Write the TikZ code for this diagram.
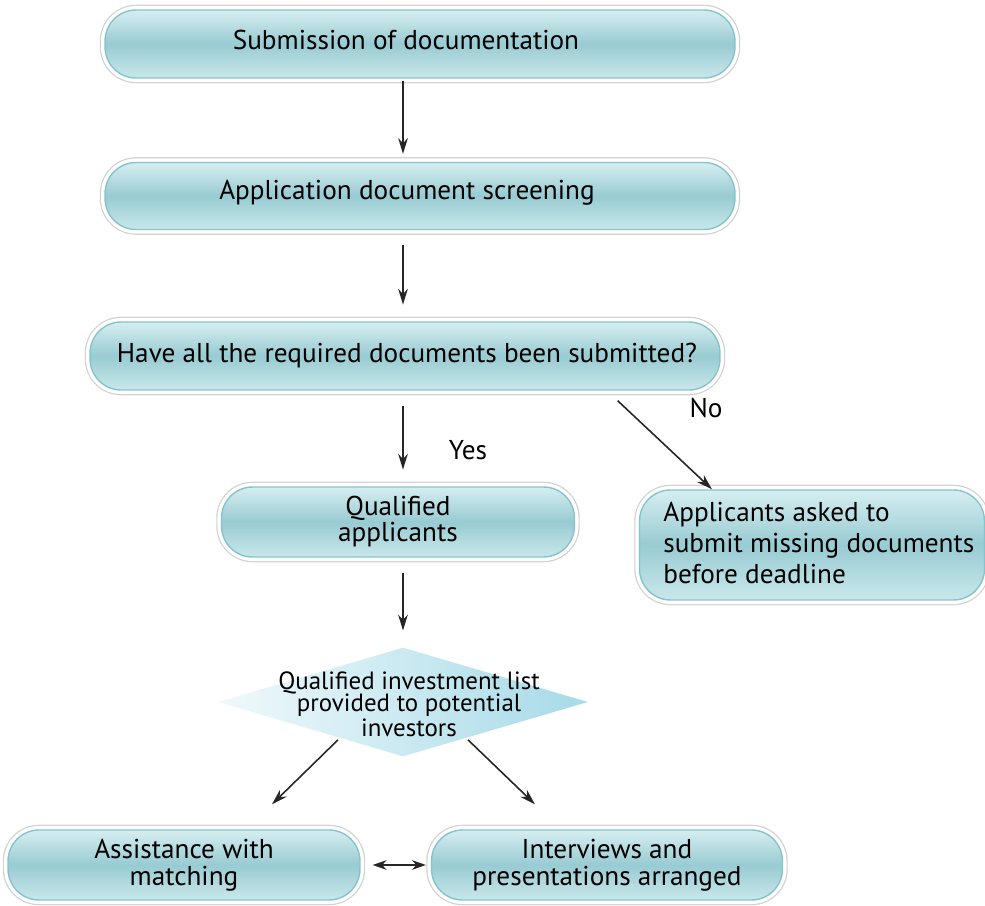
\documentclass[tikz,border=0pt]{standalone}
\usepackage{fontspec}
\setmainfont{PT Sans}
\usetikzlibrary{arrows.meta,shapes.geometric}
\definecolor{btop}{HTML}{D6EEF0}
\definecolor{bmid}{HTML}{98CBD2}
\definecolor{bbot}{HTML}{C9E8EB}
\definecolor{bline}{HTML}{86C4CC}
\definecolor{dleft}{HTML}{F0F9FC}
\definecolor{dright}{HTML}{A6DAE7}
\begin{document}
\begin{tikzpicture}[x=0.02cm,y=-0.02cm,
  pill/.style={rounded corners=0.62cm, shading=axis, top color=btop, bottom color=bbot, middle color=bmid,
    draw=bline, line width=0.8pt,
    preaction={draw=black!18,line width=6pt},
    preaction={draw=white,line width=4.6pt},
    text=black, inner sep=0pt, align=center},
  lbl/.style={font=\fontsize{15.5}{17}\selectfont, text=black, inner sep=0pt},
  arr/.style={-{Stealth[length=9pt,width=5.5pt]}, line width=0.9pt, black!85},
  vgap/.style={shorten <=8.5pt, shorten >=9.5pt}]
\useasboundingbox (0,0) rectangle (985,906);

\node[pill, minimum width=12.6cm, minimum height=1.36cm] (s1) at (420,44) {};
\node[lbl] (s1t) at (406,40) {Submission of documentation};
\node[pill, minimum width=12.6cm, minimum height=1.34cm] (s2) at (420,196) {};
\node[lbl] (s2t) at (407,193) {Application document screening};
\node[pill, minimum width=12.6cm, minimum height=1.36cm] (s3) at (405,356) {};
\node[lbl] (s3t) at (407,356) {Have all the required documents been submitted?};
\node[pill, minimum width=7.06cm, minimum height=1.4cm, font=\fontsize{15.5}{13.6}\selectfont] (qa) at (398,522) {Qualified\\applicants};
\node[pill, minimum width=6.9cm, minimum height=2.2cm] (miss) at (812,545) {};
\node[lbl, anchor=west, align=left, font=\fontsize{15.5}{17.6}\selectfont] (misst) at (663,543) {Applicants asked to\\submit missing documents\\before deadline};

\node[diamond, minimum width=7.4cm, minimum height=2.18cm, inner sep=0pt, shading=axis, left color=dleft, right color=dright] (d) at (403,702) {};
\node[lbl, align=center, font=\fontsize{14.2}{12.8}\selectfont] (dt) at (409,704) {Qualified investment list\\provided to potential\\investors};

\node[pill, minimum width=7.04cm, minimum height=1.4cm, font=\fontsize{15.5}{15.3}\selectfont] (ast) at (184,865) {Assistance with\\matching};
\node[pill, minimum width=7.02cm, minimum height=1.4cm, font=\fontsize{15.5}{15.3}\selectfont] (int) at (607,865) {Interviews and\\presentations\ arranged};

\node[lbl] (yes) at (468,450) {Yes};
\node[lbl] (no) at (706,408) {No};

\draw[arr, shorten <=1.1pt, shorten >=4.5pt] (s1.south -| d.center) -- (s2.north -| d.center);
\draw[arr, vgap] (s2.south -| d.center) -- (s3.north -| d.center);
\draw[arr, vgap] (s3.south -| d.center) -- (qa.north -| d.center);
\draw[arr, vgap] (qa.south -| d.center) -- (d.north);
\draw[arr] ([shift={(-103,10)}]s3.south east) -- ([shift={(-100,0)}]miss.north);
\draw[arr] ([shift={(-65,-17)}]d.south) -- ([shift={(88,-25)}]ast.north);
\draw[arr] ([shift={(65,-17)}]d.south) -- ([shift={(-72,-25)}]int.north);
\draw[{Stealth[length=8pt,width=5.5pt]}-{Stealth[length=8pt,width=5.5pt]}, line width=0.9pt, black!85, shorten <=6.8pt, shorten >=2.8pt] (ast.east) -- (int.west);
\end{tikzpicture}
\end{document}
